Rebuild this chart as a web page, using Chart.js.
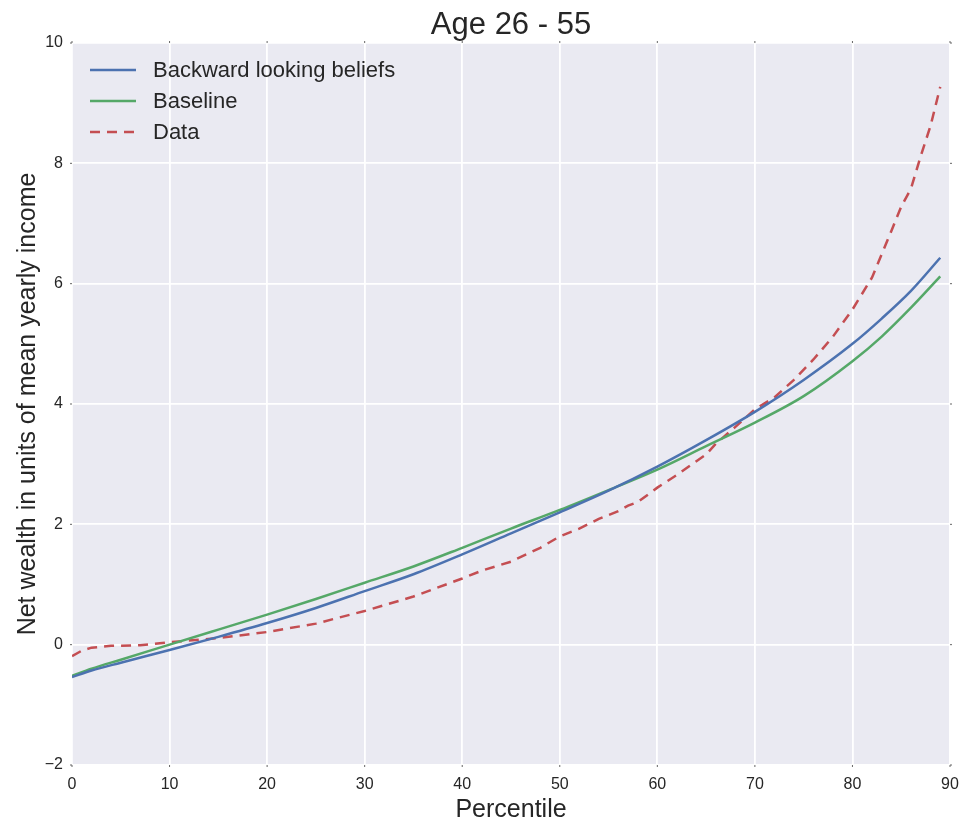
<!DOCTYPE html>
<html lang="en">
<head>
<meta charset="UTF-8">
<title>Age 26 - 55</title>
<script src="https://cdn.jsdelivr.net/npm/chart.js"></script>
<style>
    html, body { margin: 0; padding: 0; background: #fff; }
    #wrap { width: 966px; height: 828px; }
</style>
</head>
<body>
<div id="wrap"><canvas id="chart" width="966" height="828"></canvas></div>
<script>
// percentiles where the two model curves were read
const modelPct = [0, 2, 5, 10, 15, 20, 25, 30, 35, 40, 45, 50, 55, 60, 65, 70, 75, 80, 83, 86, 89];
const backwardVals = [-0.54, -0.43, -0.30, -0.09, 0.13, 0.36, 0.61, 0.89, 1.17, 1.50, 1.85, 2.20, 2.56, 2.96, 3.40, 3.87, 4.40, 5.00, 5.42, 5.88, 6.43];
const baselineVals = [-0.52, -0.40, -0.25, 0.00, 0.25, 0.50, 0.76, 1.03, 1.30, 1.61, 1.93, 2.24, 2.57, 2.91, 3.30, 3.69, 4.13, 4.71, 5.12, 5.60, 6.12];

// the data curve has kinks, so it is read more finely
const dataPct = [0, 1, 2, 4, 7, 10, 15, 20, 25, 30, 35, 40, 42, 45, 48, 50, 52, 54, 56, 57, 58, 60, 62, 64, 65, 66, 68, 70, 72, 74, 76, 78, 80, 82, 84, 85, 86, 87, 88, 89];
const dataVals = [-0.19, -0.10, -0.05, -0.02, -0.01, 0.04, 0.11, 0.21, 0.35, 0.56, 0.80, 1.10, 1.23, 1.38, 1.61, 1.80, 1.93, 2.09, 2.22, 2.31, 2.37, 2.61, 2.82, 3.05, 3.16, 3.34, 3.62, 3.91, 4.11, 4.40, 4.74, 5.12, 5.57, 6.10, 6.88, 7.28, 7.58, 8.12, 8.62, 9.27];

const seriesNames = ['Backward looking beliefs', 'Baseline', 'Data'];
const chartTitle = 'Age 26 - 55';
const xTicks = [0, 10, 20, 30, 40, 50, 60, 70, 80, 90];
const yTicks = [-2, 0, 2, 4, 6, 8, 10];

const FONT = '"Liberation Sans", Arial, "DejaVu Sans", sans-serif';
const TEXT = '#262626';

function pairs(xs, ys) {
    return xs.map((x, i) => ({ x: x, y: ys[i] }));
}

// grey plot background, like seaborn darkgrid
const bgPlugin = {
    id: 'bg',
    beforeDraw(chart) {
        const { ctx, chartArea: a } = chart;
        ctx.save();
        ctx.fillStyle = '#fff';
        ctx.fillRect(0, 0, chart.width, chart.height);
        ctx.fillStyle = '#EAEAF2';
        ctx.fillRect(a.left, a.top, a.right - a.left, a.bottom - a.top);
        ctx.restore();
    }
};

// title centred over the plot area (the built-in one centres on the canvas)
const plotTitle = {
    id: 'plotTitle',
    afterDraw(chart) {
        const { ctx, chartArea: a } = chart;
        ctx.save();
        ctx.font = '31px ' + FONT;
        ctx.fillStyle = TEXT;
        ctx.textAlign = 'center';
        ctx.textBaseline = 'middle';
        ctx.fillText(chartTitle, (a.left + a.right) / 2, 25);
        ctx.restore();
    }
};

// tiny tick marks on all four sides
const tickMarks = {
    id: 'tickMarks',
    afterDraw(chart) {
        const { ctx, chartArea: a, scales } = chart;
        ctx.save();
        ctx.strokeStyle = '#666';
        ctx.lineWidth = 1;
        ctx.beginPath();
        scales.x.ticks.forEach(t => {
            const px = scales.x.getPixelForValue(t.value);
            ctx.moveTo(px, a.bottom); ctx.lineTo(px, a.bottom + 2);
            ctx.moveTo(px, a.top); ctx.lineTo(px, a.top - 2);
        });
        scales.y.ticks.forEach(t => {
            const py = scales.y.getPixelForValue(t.value);
            ctx.moveTo(a.left, py); ctx.lineTo(a.left - 2, py);
            ctx.moveTo(a.right, py); ctx.lineTo(a.right + 2, py);
        });
        ctx.stroke();
        ctx.restore();
    }
};

// legend inside the plot, top left, no frame
const innerLegend = {
    id: 'innerLegend',
    afterDatasetsDraw(chart) {
        const { ctx, chartArea: a } = chart;
        ctx.save();
        ctx.font = '22px ' + FONT;
        ctx.textBaseline = 'middle';
        chart.data.datasets.forEach((ds, i) => {
            const y = a.top + 27 + i * 31;
            ctx.strokeStyle = ds.borderColor;
            ctx.lineWidth = ds.borderWidth;
            ctx.setLineDash(ds.borderDash || []);
            ctx.beginPath();
            ctx.moveTo(a.left + 18, y);
            ctx.lineTo(a.left + 64, y);
            ctx.stroke();
            ctx.setLineDash([]);
            ctx.fillStyle = TEXT;
            ctx.fillText(ds.label, a.left + 81, y + 1);
        });
        ctx.restore();
    }
};

new Chart(document.getElementById('chart'), {
    type: 'line',
    data: {
        datasets: [
            {
                label: seriesNames[0],
                data: pairs(modelPct, backwardVals),
                borderColor: '#4C72B0',
                borderWidth: 2.5,
                pointRadius: 0,
                cubicInterpolationMode: 'monotone'
            },
            {
                label: seriesNames[1],
                data: pairs(modelPct, baselineVals),
                borderColor: '#55A868',
                borderWidth: 2.5,
                pointRadius: 0,
                cubicInterpolationMode: 'monotone'
            },
            {
                label: seriesNames[2],
                data: pairs(dataPct, dataVals),
                borderColor: '#C44E52',
                borderWidth: 2.5,
                borderDash: [10, 7],
                pointRadius: 0,
                tension: 0
            }
        ]
    },
    options: {
        responsive: false,
        animation: false,
        devicePixelRatio: 1,
        layout: { padding: { left: 0, right: 16, top: 43, bottom: 0 } },
        plugins: {
            legend: { display: false },
            tooltip: { enabled: false },
            title: { display: false }
        },
        scales: {
            x: {
                type: 'linear',
                min: 0,
                max: 90,
                afterBuildTicks(scale) { scale.ticks = xTicks.map(v => ({ value: v })); },
                afterFit(scale) {
                    scale.height = 63;
                    // the end labels fit in the layout padding already
                    scale.paddingLeft = 0;
                    scale.paddingRight = 0;
                },
                border: { display: false },
                grid: { color: '#fff', lineWidth: 1.8, drawTicks: false },
                ticks: { color: TEXT, padding: 10, maxRotation: 0, font: { family: FONT, size: 16 } },
                title: {
                    display: true,
                    text: 'Percentile',
                    color: TEXT,
                    font: { family: FONT, size: 25, lineHeight: 1.2 },
                    padding: { top: 0, bottom: 3 }
                }
            },
            y: {
                min: -2,
                max: 10,
                afterBuildTicks(scale) { scale.ticks = yTicks.map(v => ({ value: v })); },
                afterFit(scale) { scale.width = 72; },
                border: { display: false },
                grid: { color: '#fff', lineWidth: 1.8, drawTicks: false },
                ticks: {
                    color: TEXT,
                    padding: 9,
                    font: { family: FONT, size: 16 },
                    callback: v => String(v).replace('-', '\u2212')
                },
                title: {
                    display: true,
                    text: 'Net wealth in units of mean yearly income',
                    color: TEXT,
                    font: { family: FONT, size: 25, lineHeight: 1.2 },
                    padding: { top: 13, bottom: 0 }
                }
            }
        }
    },
    plugins: [bgPlugin, plotTitle, tickMarks, innerLegend]
});
</script>
</body>
</html>
